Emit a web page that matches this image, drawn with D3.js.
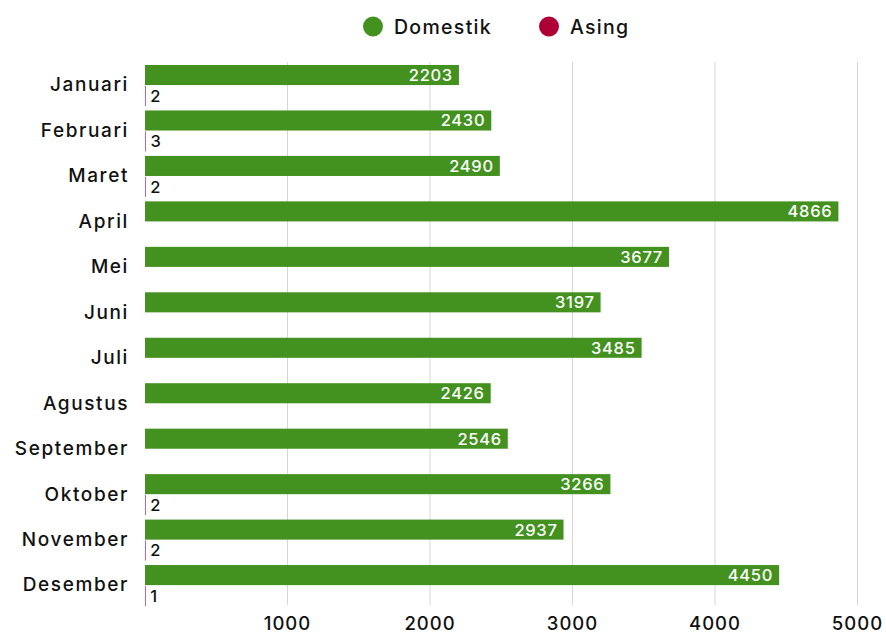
<!DOCTYPE html>
<html><head><meta charset="utf-8">
<script src="https://cdn.jsdelivr.net/npm/d3@7"></script>
<style>
body{margin:0;background:#fff;}
svg text{font-family:Inter,"Open Sans",sans-serif;}
</style></head>
<body><svg id="c" width="886" height="632"></svg>
<script>
const months = ["Januari","Februari","Maret","April","Mei","Juni","Juli","Agustus","September","Oktober","November","Desember"];
const domestik = [2203,2430,2490,4866,3677,3197,3485,2426,2546,3266,2937,4450];
const asing = [2,3,2,null,null,null,null,null,null,2,2,1];
const ticks = [1000,2000,3000,4000,5000];
const seriesNames = ["Domestik","Asing"];
const colors = ["#43911f","#af0035"];

const svg = d3.select("#c");
const x = d3.scaleLinear().domain([0,5000]).range([145,857.5]);
const y = d3.scaleBand().domain(months).range([62,607.5]);
const sub = d3.scaleBand().domain(seriesNames).range([3,y.bandwidth()-1.5]).paddingInner(0.04);

// grid
svg.append("g").selectAll("line").data(ticks).join("line")
  .attr("x1",d=>x(d)).attr("x2",d=>x(d)).attr("y1",62).attr("y2",605)
  .attr("stroke","#d6d6d6").attr("stroke-width",1);

// x tick labels
svg.append("g").selectAll("text").data(ticks).join("text")
  .attr("x",d=>x(d)).attr("y",629.5).attr("text-anchor","middle")
  .attr("font-size",18.5).attr("font-weight",500).attr("letter-spacing",1).attr("fill","#111").text(d=>d);

// category labels
svg.append("g").selectAll("text").data(months).join("text")
  .attr("x",129).attr("y",d=>y(d)+y.bandwidth()/2).attr("dy","0.35em")
  .attr("text-anchor","end").attr("font-size",19).attr("font-weight",500).attr("letter-spacing",1.6).attr("fill","#111")
  .text(d=>d);

// domestik bars
const gd = svg.append("g");
gd.selectAll("rect").data(months).join("rect")
  .attr("x",x(0)).attr("y",d=>y(d)+sub("Domestik"))
  .attr("width",(d,i)=>x(domestik[i])-x(0)).attr("height",sub.bandwidth())
  .attr("fill",colors[0]);
gd.selectAll("text").data(months).join("text")
  .attr("x",(d,i)=>x(domestik[i])-6).attr("y",d=>y(d)+sub("Domestik")+sub.bandwidth()/2).attr("dy","0.36em")
  .attr("text-anchor","end").attr("font-size",16.5).attr("font-weight",500).attr("letter-spacing",0.7).attr("fill","#fff")
  .text((d,i)=>domestik[i]);

// asing bars
const ad = months.map((m,i)=>({m,v:asing[i]})).filter(d=>d.v!=null);
const ga = svg.append("g");
ga.selectAll("rect").data(ad).join("rect")
  .attr("x",x(0)).attr("y",d=>y(d.m)+sub("Asing"))
  .attr("width",d=>Math.max(1,x(d.v)-x(0))).attr("height",sub.bandwidth())
  .attr("fill",colors[1]).attr("opacity",0.6);
ga.selectAll("text").data(ad).join("text")
  .attr("x",d=>x(d.v)+5).attr("y",d=>y(d.m)+sub("Asing")+sub.bandwidth()/2).attr("dy","0.36em")
  .attr("font-size",16.5).attr("font-weight",500).attr("fill","#111")
  .text(d=>d.v);

// legend
const legX = [373,549];
const lg = svg.append("g");
seriesNames.forEach((s,i)=>{
  lg.append("circle").attr("cx",legX[i]).attr("cy",26.5).attr("r",10).attr("fill",colors[i]);
  lg.append("text").attr("x",legX[i]+21).attr("y",26.5).attr("dy","0.36em")
    .attr("font-size",19.5).attr("font-weight",500).attr("letter-spacing",1.3).attr("fill","#111").text(s);
});
</script></body></html>
